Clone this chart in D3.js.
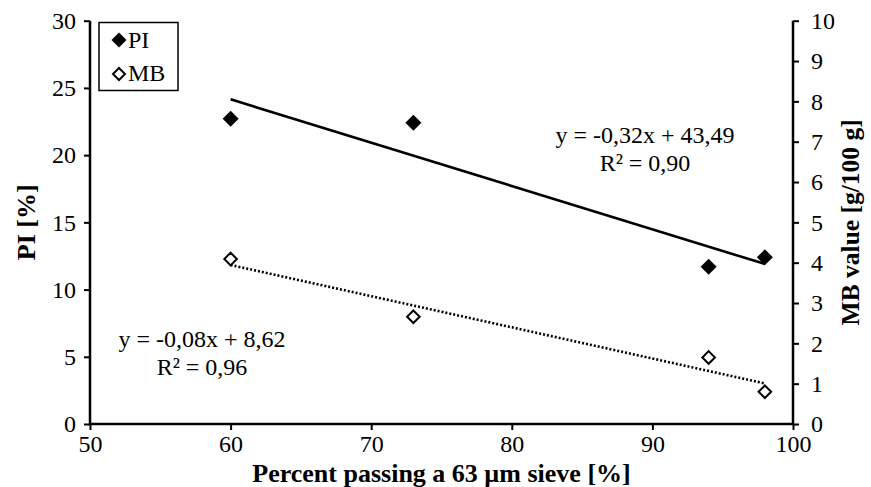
<!DOCTYPE html>
<html><head><meta charset="utf-8">
<script src="https://cdn.jsdelivr.net/npm/d3@7"></script>
<style>body{margin:0;background:#fff}svg{display:block}text{font-family:"Liberation Serif","Times New Roman",serif;fill:#000}</style>
</head><body><svg id="c" width="871" height="487"></svg>
<script>
const passing = [60, 73, 94, 98];
const piValues = [22.7, 22.4, 11.7, 12.4];
const mbValues = [4.09, 2.66, 1.65, 0.80];
const xTicks = [50, 60, 70, 80, 90, 100];
const leftTicks = [0, 5, 10, 15, 20, 25, 30];
const rightTicks = [0,1,2,3,4,5,6,7,8,9,10];
const piEq = ["y = -0,32x + 43,49", "R² = 0,90"];
const mbEq = ["y = -0,08x + 8,62", "R² = 0,96"];
const seriesNames = ["PI", "MB"];

const svg = d3.select("#c");
const L = 90, R = 793, T = 20.7, B = 424;
const FS = 24;
const x = d3.scaleLinear().domain([50, 100]).range([L, R]);
const yL = d3.scaleLinear().domain([0, 30]).range([B, T]);
const yR = d3.scaleLinear().domain([0, 10]).range([B, T]);

function fit(xs, ys) {
  const mx = d3.mean(xs), my = d3.mean(ys);
  let sxy = 0, sxx = 0;
  xs.forEach((v, i) => { sxy += (v - mx) * (ys[i] - my); sxx += (v - mx) ** 2; });
  const m = sxy / sxx; return { m, b: my - m * mx };
}

// axes
const ax = svg.append("g").attr("transform", `translate(0,${B})`)
  .call(d3.axisBottom(x).tickValues(xTicks).tickSize(6).tickFormat(d3.format("d")));
const ay = svg.append("g").attr("transform", `translate(${L},0)`)
  .call(d3.axisLeft(yL).tickValues(leftTicks).tickSize(6).tickPadding(8).tickFormat(d3.format("d")));
const ar = svg.append("g").attr("transform", `translate(${R},0)`)
  .call(d3.axisRight(yR).tickValues(rightTicks).tickSize(6).tickPadding(12).tickFormat(d3.format("d")));
[ax, ay, ar].forEach(g => {
  g.select(".domain").attr("stroke", "#000").attr("stroke-width", 2.5);
  g.selectAll(".tick line").attr("stroke", "#000").attr("stroke-width", 2);
  g.selectAll(".tick text").attr("font-size", FS).attr("font-family", "Liberation Serif");
});
ax.selectAll(".tick text").attr("y", 28).attr("dy", 0);
ax.select(".domain").attr("d", `M${L},0H${R}`);
ay.select(".domain").attr("d", `M0,${B}V${T}`);
ar.select(".domain").attr("d", `M0,${B}V${T}`);

// trendlines
const fPI = fit(passing, piValues), fMB = fit(passing, mbValues);
const x0 = d3.min(passing), x1 = d3.max(passing);
svg.append("line").attr("x1", x(x0)).attr("x2", x(x1))
  .attr("y1", yL(fPI.m * x0 + fPI.b)).attr("y2", yL(fPI.m * x1 + fPI.b))
  .attr("stroke", "#000").attr("stroke-width", 2.6);
svg.append("line").attr("x1", x(x0)).attr("x2", x(x1))
  .attr("y1", yR(fMB.m * x0 + fMB.b)).attr("y2", yR(fMB.m * x1 + fMB.b))
  .attr("stroke", "#000").attr("stroke-width", 2.6).attr("stroke-dasharray", "2,2");

// markers
const diamond = s => `M0,${-s}L${s},0L0,${s}L${-s},0Z`;
svg.selectAll(".pi").data(passing).join("path")
  .attr("d", diamond(8)).attr("fill", "#000")
  .attr("transform", (d, i) => `translate(${x(d)},${yL(piValues[i])})`);
svg.selectAll(".mb").data(passing).join("path")
  .attr("d", diamond(6.3)).attr("fill", "#fff").attr("stroke", "#000").attr("stroke-width", 2)
  .attr("transform", (d, i) => `translate(${x(d)},${yR(mbValues[i])})`);

// equations
const eqs = [[piEq, 645, 143], [mbEq, 202, 347]];
eqs.forEach(([lines, cx, cy]) => {
  lines.forEach((t, i) => svg.append("text").attr("x", cx).attr("y", cy + i * 28)
    .attr("text-anchor", "middle").attr("font-size", FS).text(t));
});

// legend
svg.append("rect").attr("x", 99).attr("y", 22.5).attr("width", 79).attr("height", 68)
  .attr("fill", "#fff").attr("stroke", "#000").attr("stroke-width", 1.5);
svg.append("path").attr("d", diamond(7.5)).attr("fill", "#000").attr("transform", "translate(119,40)");
svg.append("path").attr("d", diamond(6)).attr("fill", "#fff").attr("stroke", "#000").attr("stroke-width", 2).attr("transform", "translate(119,74)");
seriesNames.forEach((n, i) => svg.append("text").attr("x", 128).attr("y", 48 + i * 33).attr("font-size", FS).text(n));

// axis titles
svg.append("text").attr("x", (L + R) / 2).attr("y", 481.5).attr("text-anchor", "middle")
  .attr("font-size", 26).attr("font-weight", "bold").text("Percent passing a 63 µm sieve [%]");
svg.append("text").attr("transform", `translate(35,${(T + B) / 2}) rotate(-90)`).attr("text-anchor", "middle")
  .attr("font-size", 26).attr("font-weight", "bold").text("PI [%]");
svg.append("text").attr("transform", `translate(859,${(T + B) / 2}) rotate(-90)`).attr("text-anchor", "middle")
  .attr("font-size", 25.5).attr("font-weight", "bold").text("MB value [g/100 g]");
</script></body></html>
